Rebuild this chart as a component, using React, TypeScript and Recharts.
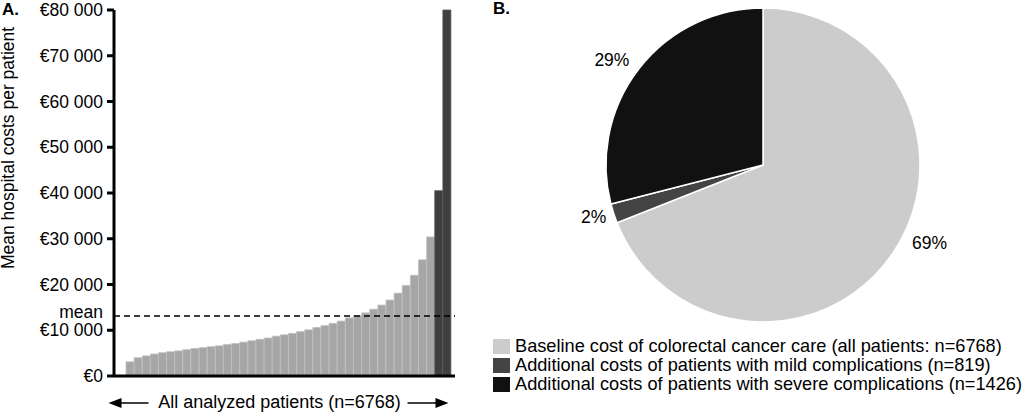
import React from 'react';
import {
  BarChart, Bar, XAxis, YAxis, Cell, ReferenceLine,
  PieChart, Pie, Legend,
} from 'recharts';

const FONT = '"Liberation Sans", Arial, Helvetica, sans-serif';
const FONT_SIZE = 17.5;
const LEGEND_FONT_SIZE = 18.2;

// Panel A: mean hospital costs per patient group, sorted ascending
const BAR_COSTS = [
  3100, 4000, 4400, 4800, 5100, 5300, 5500, 5750, 6000, 6200,
  6400, 6600, 6900, 7100, 7400, 7700, 8000, 8300, 8700, 9000,
  9300, 9700, 10100, 10600, 11000, 11500, 12000, 12700, 13200, 13800,
  14600, 15500, 16600, 18100, 19800, 22000, 25400, 30400, 40500, 80000,
];
const COMPLICATION_BARS = 2; // highest groups, drawn dark
const MEAN_COST = 13100;
const Y_TICKS = [0, 10000, 20000, 30000, 40000, 50000, 60000, 70000, 80000];

// Panel B: share of total cost
const PIE_NAMES = [
  'Baseline cost of colorectal cancer care (all patients: n=6768)',
  'Additional costs of patients with mild complications (n=819)',
  'Additional costs of patients with severe complications (n=1426)',
];
const PIE_SHARES = [69, 2, 29];
const PIE_COLORS = ['#cccccc', '#444444', '#111111'];

const barData = BAR_COSTS.map((cost, i) => ({ idx: i + 1, cost }));
const pieData = PIE_NAMES.map((name, i) => ({ name, value: PIE_SHARES[i] }));

const formatEuro = (v: number) => (v === 0 ? '€0' : `€${v / 1000} 000`);

const RADIAN = Math.PI / 180;
const LABEL_NUDGE = [9, -1, 3]; // degrees, keeps labels where the original has them

const renderPieLabel = (props: any) => {
  const { cx, cy, midAngle, outerRadius, value, index } = props;
  const a = (midAngle + LABEL_NUDGE[index]) * RADIAN;
  const r = outerRadius + (index === 1 ? 20 : 27);
  const x = cx + r * Math.cos(-a);
  const y = cy + r * Math.sin(-a);
  return (
    <text x={x} y={y} textAnchor="middle" dominantBaseline="central" fill="#000" fontSize={FONT_SIZE}>
      {value}%
    </text>
  );
};

const YLabel = (props: any) => {
  const vb = props.viewBox;
  const x = vb.x + 14;
  const y = vb.y + 138;
  return (
    <text x={x} y={y} transform={`rotate(-90, ${x}, ${y})`} textAnchor="middle" fill="#000" fontSize={FONT_SIZE}>
      Mean hospital costs per patient
    </text>
  );
};

const ArrowCaption = (props: any) => {
  const vb = props.viewBox;
  const cx = vb.x + vb.width / 2 - 5;
  const ay = vb.y + 27;
  return (
    <g>
      <line x1={cx - 160} y1={ay} x2={cx - 131} y2={ay} stroke="#000" strokeWidth={1.5} />
      <polygon points={`${cx - 171},${ay} ${cx - 158},${ay - 5} ${cx - 158},${ay + 5}`} fill="#000" />
      <text x={cx} y={vb.y + 32} textAnchor="middle" fill="#000" fontSize={18}>
        All analyzed patients (n=6768)
      </text>
      <line x1={cx + 128} y1={ay} x2={cx + 158} y2={ay} stroke="#000" strokeWidth={1.5} />
      <polygon points={`${cx + 169},${ay} ${cx + 156},${ay - 5} ${cx + 156},${ay + 5}`} fill="#000" />
    </g>
  );
};

const MeanLabel = (props: any) => {
  const vb = props.viewBox;
  return (
    <text x={vb.x - 11} y={vb.y + 2} textAnchor="end" fill="#000" fontSize={FONT_SIZE}>
      mean
    </text>
  );
};

// legend rows follow the data order (Recharts would sort them)
const PieLegend = () => (
  <div>
    {PIE_NAMES.map((name, i) => (
      <div key={`leg-${i}`} style={{ display: 'flex', alignItems: 'center', height: 19, whiteSpace: 'nowrap' }}>
        <span style={{ display: 'inline-block', flex: '0 0 auto', width: 17, height: 15, background: PIE_COLORS[i], marginRight: 5 }} />
        <span style={{ flex: '0 0 auto', fontSize: LEGEND_FONT_SIZE, color: '#000', lineHeight: '19px' }}>{name}</span>
      </div>
    ))}
  </div>
);

export default function App() {
  return (
    <div style={{ position: 'absolute', left: 0, top: 0, width: 1024, height: 412, background: '#fff', fontFamily: FONT, overflow: 'hidden' }}>
      <div style={{ position: 'absolute', left: 2, top: 0, fontSize: 17, fontWeight: 'bold', lineHeight: '20px' }}>A.</div>
      <div style={{ position: 'absolute', left: 493, top: 0, fontSize: 17, fontWeight: 'bold', lineHeight: '18px' }}>B.</div>

      <div style={{ position: 'absolute', left: 0, top: 0 }}>
        <BarChart
          width={470}
          height={412}
          data={barData}
          margin={{ top: 10, right: 15, bottom: 6, left: 0 }}
          barCategoryGap={0}
          barGap={0}
        >
          <XAxis
            dataKey="idx"
            tick={false}
            tickLine={false}
            axisLine={{ stroke: '#000', strokeWidth: 3 }}
            height={30}
            padding={{ left: 12, right: 4 }}
            label={ArrowCaption}
          />
          <YAxis
            width={114}
            domain={[0, 80000]}
            ticks={Y_TICKS}
            tickFormatter={formatEuro}
            interval={0}
            tick={{ fill: '#000', fontSize: FONT_SIZE }}
            tickSize={7}
            tickMargin={4}
            tickLine={{ stroke: '#000', strokeWidth: 3 }}
            axisLine={{ stroke: '#000', strokeWidth: 3 }}
            label={YLabel}
          />
          <Bar dataKey="cost" isAnimationActive={false}>
            {barData.map((d, i) => {
              const dark = i >= barData.length - COMPLICATION_BARS;
              return (
                <Cell
                  key={`bar-${i}`}
                  fill={dark ? '#3f3f3f' : '#a6a6a6'}
                  stroke={dark ? '#555555' : '#bfbfbf'}
                  strokeWidth={0.8}
                />
              );
            })}
          </Bar>
          <ReferenceLine
            y={MEAN_COST}
            stroke="#000"
            strokeWidth={1.5}
            strokeDasharray="6 4"
            label={MeanLabel}
          />
        </BarChart>
      </div>

      <div style={{ position: 'absolute', left: 480, top: 0 }}>
        <PieChart width={544} height={412} margin={{ top: 0, right: 0, bottom: 0, left: 0 }}>
          <Pie
            data={pieData}
            dataKey="value"
            nameKey="name"
            cx={283}
            cy={165}
            outerRadius={157}
            startAngle={90}
            endAngle={-270}
            stroke="#fff"
            strokeWidth={1.5}
            labelLine={false}
            label={renderPieLabel}
            isAnimationActive={false}
          >
            {pieData.map((d, i) => (
              <Cell key={`slice-${i}`} fill={PIE_COLORS[i]} />
            ))}
          </Pie>
          <Legend
            verticalAlign="bottom"
            align="left"
            layout="horizontal"
            content={PieLegend}
            wrapperStyle={{ left: 13, top: 337, bottom: 'auto', width: 531 }}
          />
        </PieChart>
      </div>
    </div>
  );
}
